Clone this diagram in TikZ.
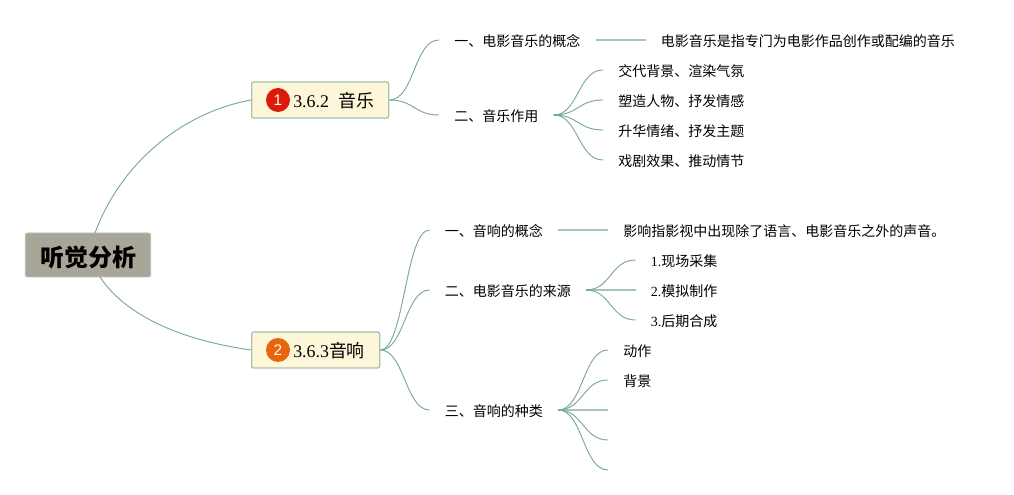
\documentclass[tikz,border=0pt]{standalone}
\usepackage{fontspec}
\setmainfont{Liberation Serif}
\setsansfont{Liberation Sans}
\newfontfamily\cjk{Noto Sans CJK SC}
\definecolor{linkc}{HTML}{7AA89B}
\definecolor{linkp}{HTML}{A5C6BA}
\definecolor{rootf}{HTML}{A8A699}
\definecolor{rootd}{HTML}{BDBCB0}
\definecolor{boxf}{HTML}{FDF6D9}
\definecolor{boxd}{HTML}{A3C3B2}
\definecolor{redc}{HTML}{DD1A0A}
\definecolor{orc}{HTML}{E6650F}
\tikzset{
  x=0.75pt,y=-0.75pt,
  link/.style={draw=linkc,line width=0.7pt},
  straight/.style={draw=linkp,line width=1.2pt},
  topic/.style={inner xsep=11.25pt,inner ysep=0pt,text height=9.5pt,text depth=0pt,font=\fontsize{10.5pt}{12pt}\selectfont\cjk,anchor=west},
  branch/.style={draw=boxd,fill=boxf,line width=1pt,rounded corners=1.5pt,minimum height=27pt,inner sep=0pt,anchor=west},
  badge/.style={circle,inner sep=0pt,minimum size=18pt,text=white!92!yellow,font=\fontsize{11.5pt}{12pt}\selectfont\sffamily},
  btext/.style={inner sep=0pt,anchor=west,font=\fontsize{13.4pt}{14pt}\selectfont}
}
\begin{document}
\begin{tikzpicture}
\useasboundingbox (0,0) rectangle (1014,495);
% root
\node[fill=rootf,draw=rootd,line width=0.6pt,rounded corners=1.5pt,minimum width=94pt,minimum height=33pt,inner sep=0pt,text height=16.6pt,text depth=0pt,font=\fontsize{18pt}{19pt}\selectfont\cjk\bfseries] (root) at (88,255) {听觉分析};
% branches
\node[branch,minimum width=102.75pt] (b1) at (251,100) {};
\node[branch,minimum width=96pt] (b2) at (251,350) {};
\node[badge,fill=redc] (bd1) at (278,100) {1};
\node[badge,fill=orc] (bd2) at (278,350) {2};
\node[btext] (t1) at (293,101) {3.6.2\hspace{0.55em}{\cjk 音乐}};
\node[btext] (t2) at (293,351) {3.6.3{\cjk 音响}};
% level 2
\node[topic] (a1) at (439,40) {一、电影音乐的概念};
\node[topic] (a2) at (439,115) {二、音乐作用};
\node[topic] (c1) at (429.5,230) {一、音响的概念};
\node[topic] (c2) at (429.5,290) {二、电影音乐的来源};
\node[topic] (c3) at (429.5,410) {三、音响的种类};
% leaves
\node[topic] (a11) at (645.5,40) {电影音乐是指专门为电影作品创作或配编的音乐};
\node[topic] (a21) at (603,70) {交代背景、渲染气氛};
\node[topic] (a22) at (603,100) {塑造人物、抒发情感};
\node[topic] (a23) at (603,130) {升华情绪、抒发主题};
\node[topic] (a24) at (603,160) {戏剧效果、推动情节};
\node[topic] (c11) at (608,230) {影响指影视中出现除了语言、电影音乐之外的声音。};
\node[topic] (c21) at (635.5,260) {{\rmfamily 1.}现场采集};
\node[topic] (c22) at (635.5,290) {{\rmfamily 2.}模拟制作};
\node[topic] (c23) at (635.5,320) {{\rmfamily 3.}后期合成};
\node[topic] (c31) at (608,350) {动作};
\node[topic] (c32) at (608,380) {背景};
\coordinate (c33) at (608,410);
\coordinate (c34) at (608,440);
\coordinate (c35) at (608,470);
\coordinate (r1) at (95,233);
\coordinate (r2) at (100,277);
% root links
\draw[link] (r1) .. controls (120,165) and (180,113) .. (b1.west);
\draw[link] (r2) .. controls (125,315) and (180,340) .. (b2.west);
% branch 1
\draw[link] (b1.east) .. controls ++(25,0) and ([xshift=-18.75pt]a1.west) .. (a1.west);
\draw[link] (b1.east) .. controls ++(25,0) and ([xshift=-18.75pt]a2.west) .. (a2.west);
% branch 2
\draw[link] (b2.east) .. controls ++(24,0) and ([xshift=-18pt]c1.west) .. (c1.west);
\draw[link] (b2.east) .. controls ++(24,0) and ([xshift=-18pt]c2.west) .. (c2.west);
\draw[link] (b2.east) .. controls ++(24,0) and ([xshift=-18pt]c3.west) .. (c3.west);
% straight
\draw[straight] (a1.east) -- (a11.west);
\draw[straight] (c1.east) -- (c11.west);
\draw[straight] (c2.east) -- (c22.west);
\draw[straight] (c3.east) -- (c33);
% fans
\foreach \t in {a21,a22,a23,a24}{
  \draw[link] (a2.east) .. controls ++(25,0) and ([xshift=-18.75pt]\t.west) .. (\t.west);
}
\foreach \t in {c21,c23}{
  \draw[link] (c2.east) .. controls ++(25,0) and ([xshift=-18.75pt]\t.west) .. (\t.west);
}
\foreach \t in {c31,c32,c34,c35}{
  \draw[link] (c3.east) .. controls ++(25,0) and ([xshift=-18.75pt]\t.west) .. (\t.west);
}
\draw[draw=linkc,line width=1pt] (a2.east) -- ++(7,0);
\draw[draw=linkc,line width=1pt] (c2.east) -- ++(7,0);
\draw[draw=linkc,line width=1pt] (c3.east) -- ++(7,0);
\end{tikzpicture}
\end{document}
